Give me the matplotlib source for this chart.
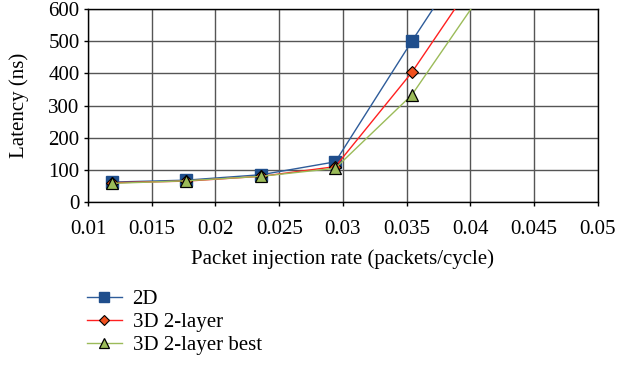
import numpy as np
import matplotlib.pyplot as plt

plt.rcParams['font.family'] = ['Liberation Serif', 'DejaVu Serif']

# injection rate (packets/cycle); last point lies above the plotted range
rate = [0.0119, 0.0177, 0.0236, 0.0294, 0.0354, 0.0412]
lat_2d = [62, 68, 85, 125, 500, 850]
lat_3d = [60, 65, 80, 110, 403, 742]
lat_3d_best = [58, 66, 80, 105, 333, 667]

fig = plt.figure(figsize=(6.17, 3.68), dpi=100)
ax = fig.add_axes([0.1426, 0.451, 0.8266, 0.5245])

ax.plot(rate, lat_2d, color='#2e5c9a', lw=1.0, marker='s', ms=8,
        mfc='#1f4e8c', mec='#1f4e8c', label='2D', zorder=3)
ax.plot(rate, lat_3d, color='#ff2020', lw=1.0, marker='D', ms=6,
        mfc='#f0501e', mec='black', mew=0.8, label='3D 2-layer', zorder=4)
ax.plot(rate, lat_3d_best, color='#9bbb59', lw=1.0, marker='^', ms=8,
        mfc='#9bbb59', mec='black', mew=0.9, label='3D 2-layer best', zorder=5)

ax.set_xlim(0.01, 0.05)
ax.set_ylim(0, 600)
ax.set_xticks(np.arange(0.01, 0.0501, 0.005))
ax.set_xticklabels(['0.01', '0.015', '0.02', '0.025', '0.03', '0.035',
                    '0.04', '0.045', '0.05'])
ax.set_yticks(range(0, 601, 100))
ax.grid(True, color='#555555', lw=1.0)
ax.set_axisbelow(True)
for s in ax.spines.values():
    s.set_color('black')
    s.set_linewidth(1.0)
ax.tick_params(labelsize=15, length=3, direction='out', width=1.0)
ax.tick_params(axis='x', pad=10)
ax.tick_params(axis='y', pad=3)
ax.set_xlabel('Packet injection rate (packets/cycle)', fontsize=15, labelpad=7)
ax.set_ylabel('Latency (ns)', fontsize=15, labelpad=14)

fig.legend(loc='upper left', bbox_to_anchor=(0.127, 0.235), frameon=False,
           fontsize=15, handlelength=1.7, labelspacing=0.15, handletextpad=0.5,
           markerscale=0.9, borderaxespad=0)

fig.savefig('out.png', dpi=100)
